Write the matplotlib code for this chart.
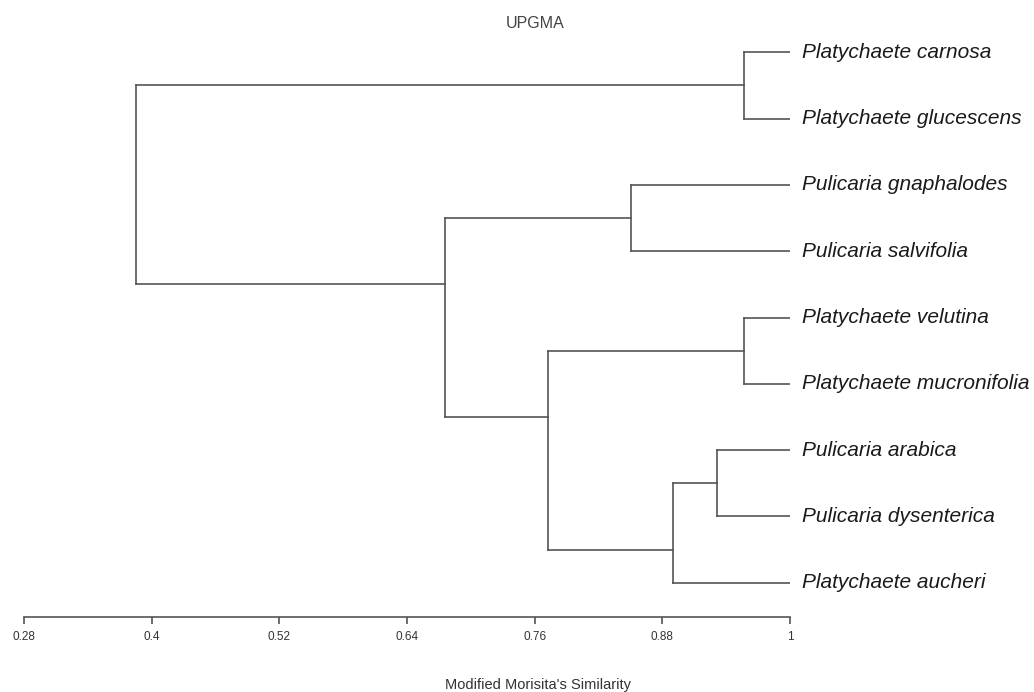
# -*- coding: utf-8 -*-

# UPGMA dendrogram, modified Morisita similarity
import matplotlib
matplotlib.use('Agg')
from matplotlib import pyplot as plt

plt.rcParams['font.family'] = ['Liberation Sans', 'DejaVu Sans']

leaves = ['Platychaete carnosa', 'Platychaete glucescens',
          'Pulicaria gnaphalodes', 'Pulicaria salvifolia',
          'Platychaete velutina', 'Platychaete mucronifolia',
          'Pulicaria arabica', 'Pulicaria dysenterica',
          'Platychaete aucheri']

# merge table: numbers >= len(leaves) refer to earlier merges
merge_left = [0, 2, 4, 6, 12, 11, 10, 9]
merge_right = [1, 3, 5, 7, 8, 13, 14, 15]
merge_sim = [0.957, 0.851, 0.957, 0.931, 0.890, 0.773, 0.676, 0.385]

ticks = [0.28, 0.4, 0.52, 0.64, 0.76, 0.88, 1]
tick_labels = ['0.28', '0.4', '0.52', '0.64', '0.76', '0.88', '1']

line_col = '#555555'

fig = plt.figure(figsize=(10.34, 6.92), dpi=100)
ax = fig.add_axes([24 / 1034, 75 / 692, 766 / 1034, 607 / 692])

# leaf positions
node_x = [1.0] * len(leaves)
node_y = list(range(len(leaves)))
first_leaf = list(range(len(leaves)))

for l, r, s in zip(merge_left, merge_right, merge_sim):
    # joining line sits at the boundary between the two clusters
    y = first_leaf[r] - 0.5
    ax.plot([s, s], [node_y[l], node_y[r]], color=line_col, lw=1.2)
    for c in (l, r):
        ax.plot([node_x[c], s], [node_y[c], node_y[c]], color=line_col, lw=1.2)
    node_x.append(s)
    node_y.append(y)
    first_leaf.append(first_leaf[l])

for i, name in enumerate(leaves):
    ax.annotate(name, (1.0, i), xytext=(8.5, 0), textcoords='offset points',
                va='center', ha='left', fontsize=15, style='italic',
                color='#1a1a1a', annotation_clip=False)

ax.set_xlim(0.28, 1.0)
ax.set_ylim(8.517, -0.638)
ax.set_xticks(ticks)
ax.set_xticklabels(tick_labels)
ax.tick_params(axis='x', direction='out', length=5, width=1.2, color=line_col,
               labelsize=8.5, labelcolor='#333333', pad=5)
ax.set_yticks([])
for side in ['top', 'right', 'left']:
    ax.spines[side].set_visible(False)
ax.spines['bottom'].set_color(line_col)
ax.spines['bottom'].set_linewidth(1.2)

fig.text(535 / 1034, 1 - 24 / 692, 'UPGMA', ha='center', va='center',
         fontsize=11.5, color='#444444')
fig.text(538 / 1034, 1 - 685 / 692, "Modified Morisita's Similarity",
         ha='center', va='center', fontsize=10.5, color='#333333')

plt.savefig('out.png', dpi=100)
